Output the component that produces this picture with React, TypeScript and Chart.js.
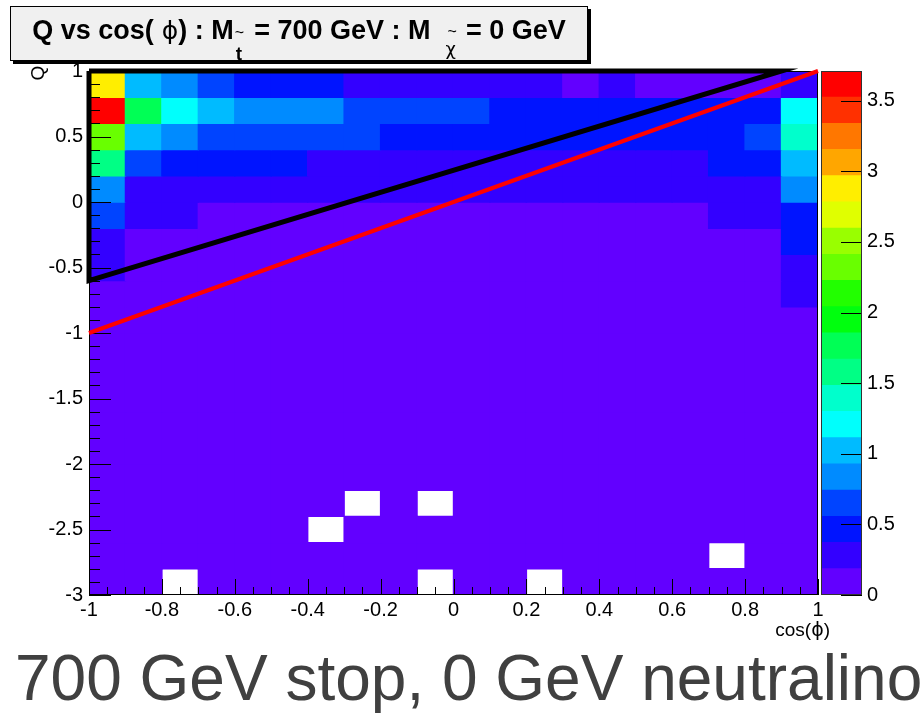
import React, { useEffect, useRef } from "react";
import { Chart, registerables } from "chart.js";

Chart.register(...registerables);

// ---- data ----
const cosPhiBins = [-0.95, -0.85, -0.75, -0.65, -0.55, -0.45, -0.35, -0.25, -0.15, -0.05, 0.05, 0.15, 0.25, 0.35, 0.45, 0.55, 0.65, 0.75, 0.85, 0.95];
const qBins = [0.9, 0.7, 0.5, 0.3, 0.1, -0.1, -0.3, -0.5, -0.7, -0.9, -1.1, -1.3, -1.5, -1.7, -1.9, -2.1, -2.3, -2.5, -2.7, -2.9];
const cosPhiBinWidth = 0.1;
const qBinHeight = 0.2;

// rows follow qBins (top to bottom), columns follow cosPhiBins
const counts: number[][] = [
  [2.87, 1.02, 0.83, 0.65, 0.47, 0.45, 0.42, 0.30, 0.27, 0.25, 0.28, 0.24, 0.22, 0.15, 0.21, 0.14, 0.12, 0.16, 0.15, 0.31],
  [3.71, 1.78, 1.22, 1.00, 0.85, 0.82, 0.80, 0.68, 0.63, 0.60, 0.58, 0.50, 0.48, 0.46, 0.45, 0.44, 0.47, 0.50, 0.52, 1.22],
  [2.30, 1.00, 0.80, 0.70, 0.66, 0.63, 0.60, 0.58, 0.52, 0.50, 0.48, 0.45, 0.47, 0.44, 0.43, 0.46, 0.49, 0.51, 0.62, 1.40],
  [1.58, 0.66, 0.50, 0.46, 0.44, 0.40, 0.34, 0.32, 0.30, 0.30, 0.29, 0.28, 0.27, 0.30, 0.31, 0.33, 0.35, 0.40, 0.45, 1.05],
  [0.85, 0.33, 0.31, 0.29, 0.28, 0.27, 0.26, 0.25, 0.24, 0.24, 0.23, 0.22, 0.23, 0.24, 0.25, 0.26, 0.27, 0.30, 0.32, 0.85],
  [0.68, 0.30, 0.26, 0.17, 0.16, 0.15, 0.14, 0.14, 0.13, 0.13, 0.12, 0.13, 0.14, 0.14, 0.15, 0.16, 0.17, 0.22, 0.25, 0.48],
  [0.30, 0.15, 0.13, 0.12, 0.11, 0.10, 0.10, 0.09, 0.09, 0.09, 0.10, 0.10, 0.10, 0.11, 0.11, 0.12, 0.13, 0.14, 0.16, 0.45],
  [0.24, 0.12, 0.10, 0.09, 0.09, 0.08, 0.08, 0.08, 0.07, 0.07, 0.08, 0.08, 0.08, 0.09, 0.09, 0.10, 0.11, 0.12, 0.14, 0.30],
  [0.16, 0.10, 0.09, 0.08, 0.07, 0.07, 0.06, 0.06, 0.06, 0.06, 0.06, 0.07, 0.07, 0.07, 0.08, 0.08, 0.09, 0.10, 0.12, 0.25],
  [0.13, 0.09, 0.07, 0.06, 0.06, 0.05, 0.05, 0.05, 0.05, 0.05, 0.05, 0.05, 0.06, 0.06, 0.06, 0.07, 0.07, 0.08, 0.10, 0.15],
  [0.11, 0.07, 0.06, 0.05, 0.05, 0.04, 0.04, 0.04, 0.04, 0.04, 0.04, 0.04, 0.05, 0.05, 0.05, 0.05, 0.06, 0.07, 0.08, 0.12],
  [0.09, 0.06, 0.05, 0.04, 0.04, 0.04, 0.03, 0.03, 0.03, 0.03, 0.04, 0.04, 0.04, 0.04, 0.04, 0.05, 0.05, 0.06, 0.07, 0.10],
  [0.08, 0.05, 0.04, 0.04, 0.03, 0.03, 0.03, 0.03, 0.03, 0.03, 0.03, 0.03, 0.03, 0.03, 0.04, 0.04, 0.04, 0.05, 0.06, 0.08],
  [0.07, 0.04, 0.04, 0.03, 0.03, 0.03, 0.02, 0.02, 0.02, 0.02, 0.02, 0.03, 0.03, 0.03, 0.03, 0.03, 0.04, 0.04, 0.05, 0.07],
  [0.06, 0.04, 0.03, 0.03, 0.02, 0.02, 0.02, 0.02, 0.02, 0.02, 0.02, 0.02, 0.02, 0.02, 0.03, 0.03, 0.03, 0.04, 0.04, 0.06],
  [0.05, 0.03, 0.03, 0.02, 0.02, 0.02, 0.02, 0.02, 0.01, 0.02, 0.02, 0.02, 0.02, 0.02, 0.02, 0.02, 0.03, 0.03, 0.04, 0.05],
  [0.04, 0.03, 0.02, 0.02, 0.02, 0.01, 0.01, 0.00, 0.01, 0.00, 0.01, 0.01, 0.02, 0.02, 0.02, 0.02, 0.02, 0.03, 0.03, 0.04],
  [0.04, 0.02, 0.02, 0.02, 0.01, 0.01, 0.00, 0.01, 0.01, 0.01, 0.01, 0.01, 0.01, 0.01, 0.02, 0.02, 0.02, 0.02, 0.03, 0.04],
  [0.03, 0.02, 0.02, 0.01, 0.01, 0.01, 0.01, 0.01, 0.01, 0.01, 0.01, 0.01, 0.01, 0.01, 0.01, 0.02, 0.02, 0.00, 0.02, 0.03],
  [0.03, 0.02, 0.00, 0.01, 0.01, 0.01, 0.01, 0.01, 0.01, 0.00, 0.01, 0.01, 0.00, 0.01, 0.01, 0.01, 0.01, 0.02, 0.02, 0.03],
];

// ROOT "pretty" palette, 20 contour bands (bottom -> top)
const paletteColors = [
  "#6200FF", "#3300FF", "#0014FF", "#0044FF", "#008BFF",
  "#00BBFF", "#00FFFC", "#00FFCC", "#00FF85", "#00FF55",
  "#00FF0E", "#22FF00", "#69FF00", "#99FF00", "#E0FF00",
  "#FFEE00", "#FFA600", "#FF7700", "#FF3000", "#FF0000",
];

const blackRegion = [
  { x: -1, y: 1 },
  { x: 0.9, y: 1 },
  { x: -1, y: -0.6 },
  { x: -1, y: 1 },
];
const redBoundary = [
  { x: -1, y: -1 },
  { x: 1, y: 1 },
];

const FONT = '"Liberation Sans", Arial, Helvetica, sans-serif';
const zMax = Math.max(...counts.map((r) => Math.max(...r)));
const nBands = paletteColors.length;
const colorFor = (v: number) =>
  paletteColors[Math.min(nBands - 1, Math.max(0, Math.floor((v / zMax) * nBands)))];
const fmtTick = (v: any) => String(Math.round(Number(v) * 100) / 100);

const FIRST_BAR_INDEX = 2;

const rootAxesPlugin = {
  id: "rootAxes",
  afterDatasetDraw(chart: any, args: any) {
    if (args.index !== FIRST_BAR_INDEX) return;
    const { ctx, chartArea: a, scales } = chart;
    const xs = scales.x;
    const ys = scales.y;
    ctx.save();
    ctx.strokeStyle = "#000";
    ctx.lineWidth = 1;
    const seg = (x1: number, y1: number, x2: number, y2: number) => {
      ctx.beginPath();
      ctx.moveTo(x1, y1);
      ctx.lineTo(x2, y2);
      ctx.stroke();
    };
    const yv = ys.ticks.map((t: any) => t.value);
    for (let i = 0; i < yv.length; i++) {
      const py = Math.round(ys.getPixelForValue(yv[i])) + 0.5;
      seg(a.left, py, a.left + 22, py);
      if (i < yv.length - 1) {
        for (let k = 1; k < 5; k++) {
          const v = yv[i] + ((yv[i + 1] - yv[i]) * k) / 5;
          const p = Math.round(ys.getPixelForValue(v)) + 0.5;
          seg(a.left, p, a.left + 11, p);
        }
      }
    }
    const xv = xs.ticks.map((t: any) => t.value);
    for (let i = 0; i < xv.length; i++) {
      const px = Math.round(xs.getPixelForValue(xv[i])) + 0.5;
      seg(px, a.bottom, px, a.bottom - 16);
      if (i < xv.length - 1) {
        for (let k = 1; k < 4; k++) {
          const v = xv[i] + ((xv[i + 1] - xv[i]) * k) / 4;
          const p = Math.round(xs.getPixelForValue(v)) + 0.5;
          seg(p, a.bottom, p, a.bottom - 8);
        }
      }
    }
    ctx.strokeRect(a.left + 0.5, a.top + 0.5, a.width - 1, a.height - 1);
    ctx.restore();
  },
};

const paletteAxisPlugin = {
  id: "paletteAxis",
  afterDatasetsDraw(chart: any) {
    const { ctx, chartArea: a, scales } = chart;
    const ys = scales.y;
    ctx.save();
    ctx.strokeStyle = "#000";
    ctx.lineWidth = 1;
    ys.ticks.forEach((t: any) => {
      const py = Math.round(ys.getPixelForValue(t.value)) + 0.5;
      ctx.beginPath();
      ctx.moveTo(a.right, py);
      ctx.lineTo(a.right - 21, py);
      ctx.stroke();
    });
    ctx.strokeStyle = "#333";
    ctx.strokeRect(a.left + 0.5, a.top + 0.5, a.width - 1, a.height - 1);
    ctx.restore();
  },
};

export default function App() {
  const mainRef = useRef<HTMLCanvasElement>(null);
  const barRef = useRef<HTMLCanvasElement>(null);

  useEffect(() => {
    const cellDatasets = qBins.map((q, r) => ({
      type: "bar" as const,
      label: `Q=${q}`,
      data: cosPhiBins
        .map((x, c) => ({ x, y: [q - qBinHeight / 2, q + qBinHeight / 2], v: counts[r][c] }))
        .filter((d) => d.v > 0),
      backgroundColor: (ctx: any) => colorFor(ctx.raw ? ctx.raw.v : 0),
      borderWidth: 0,
      barPercentage: 1,
      categoryPercentage: 1,
      inflateAmount: 0.7,
      grouped: false,
    }));

    const main = new Chart(mainRef.current!, {
      type: "bar",
      data: {
        datasets: [
          {
            type: "line",
            label: "black",
            data: blackRegion,
            borderColor: "#000",
            borderWidth: 5,
            pointRadius: 0,
            fill: false,
            tension: 0,
            clip: false,
            borderJoinStyle: "miter",
          } as any,
          {
            type: "line",
            label: "red",
            data: redBoundary,
            borderColor: "#FF0000",
            borderWidth: 4,
            pointRadius: 0,
            fill: false,
            tension: 0,
            clip: false,
          } as any,
          ...cellDatasets,
        ],
      },
      options: {
        responsive: false,
        animation: false,
        events: [],
        layout: { padding: { left: 0, top: 71, right: 103, bottom: 90 } },
        plugins: { legend: { display: false }, tooltip: { enabled: false }, title: { display: false } },
        scales: {
          x: {
            type: "linear",
            min: -1,
            max: 1,
            offset: false,
            ticks: { stepSize: 0.2, color: "#000", font: { family: FONT, size: 20 }, padding: 3, maxRotation: 0, callback: fmtTick },
            grid: { display: false, drawTicks: false },
            border: { display: false },
            afterFit: (s: any) => {
              s.height = 30;
            },
          },
          y: {
            type: "linear",
            min: -3,
            max: 1,
            ticks: { stepSize: 0.5, color: "#000", font: { family: FONT, size: 20 }, padding: 6, callback: fmtTick },
            grid: { display: false, drawTicks: false },
            border: { display: false },
            afterFit: (s: any) => {
              s.width = 89;
            },
          },
        },
      } as any,
      plugins: [rootAxesPlugin],
    });

    const levels = paletteColors.map((_, j) => [(j * zMax) / nBands, ((j + 1) * zMax) / nBands]);
    const bar = new Chart(barRef.current!, {
      type: "bar",
      data: {
        labels: [""],
        datasets: levels.map((lv, j) => ({
          label: `band${j}`,
          data: [lv],
          backgroundColor: paletteColors[j],
          borderWidth: 0,
          barPercentage: 1,
          categoryPercentage: 1,
          inflateAmount: 0.5,
          grouped: false,
        })),
      },
      options: {
        responsive: false,
        animation: false,
        events: [],
        layout: { padding: { left: 21, top: 71, right: 19, bottom: 120 } },
        plugins: { legend: { display: false }, tooltip: { enabled: false } },
        scales: {
          x: { display: false },
          y: {
            position: "right",
            min: 0,
            max: zMax,
            ticks: { stepSize: 0.5, includeBounds: false, color: "#000", font: { family: FONT, size: 20 }, padding: 5, callback: fmtTick },
            grid: { display: false, drawTicks: false },
            border: { display: false },
            afterFit: (s: any) => {
              s.width = 40;
            },
          },
        },
      } as any,
      plugins: [paletteAxisPlugin],
    });

    return () => {
      main.destroy();
      bar.destroy();
    };
  }, []);

  const stack: React.CSSProperties = { display: "inline-block", position: "relative", width: 13, height: 0 };

  return (
    <div
      style={{
        position: "absolute",
        left: 0,
        top: 0,
        width: 921,
        height: 715,
        overflow: "hidden",
        background: "#fff",
        fontFamily: FONT,
      }}
    >
      <canvas ref={mainRef} width={921} height={715} style={{ position: "absolute", left: 0, top: 0 }} />
      <canvas ref={barRef} width={121} height={715} style={{ position: "absolute", left: 800, top: 0 }} />

      {/* title box */}
      <div
        style={{
          position: "absolute",
          left: 10,
          top: 6,
          width: 576,
          height: 53,
          background: "#f0f0f0",
          border: "1px solid #000",
          boxShadow: "3px 3px 0 #000",
        }}
      >
        <div
          style={{
            position: "absolute",
            left: 0,
            right: 0,
            top: 8,
            textAlign: "center",
            fontWeight: "bold",
            fontSize: 27,
            lineHeight: "30px",
            whiteSpace: "nowrap",
            color: "#000",
          }}
        >
          Q vs cos(
          <span style={{ fontFamily: '"DejaVu Sans", sans-serif', fontWeight: "normal", fontSize: 25 }}>&nbsp;ϕ</span>) : M
          <span style={stack}>
            <span style={{ position: "absolute", left: 1, top: -14, fontSize: 16, lineHeight: "16px", fontWeight: "normal" }}>~</span>
            <span style={{ position: "absolute", left: 2, top: 5, fontSize: 19, lineHeight: "19px" }}>t</span>
          </span>
          &nbsp;= 700 GeV : M&nbsp;&nbsp;
          <span style={stack}>
            <span style={{ position: "absolute", left: 2, top: -15, fontSize: 16, lineHeight: "16px", fontWeight: "normal" }}>~</span>
            <span
              style={{
                position: "absolute",
                left: 0,
                top: 1,
                fontSize: 18,
                lineHeight: "18px",
                fontWeight: "normal",
                fontFamily: '"DejaVu Sans", sans-serif',
              }}
            >
              χ
            </span>
          </span>
          &nbsp;= 0 GeV
        </div>
      </div>

      {/* axis titles */}
      <div
        style={{
          position: "absolute",
          left: 28,
          top: 62,
          width: 20,
          height: 22,
          fontSize: 19,
          lineHeight: "22px",
          textAlign: "center",
          transform: "rotate(-90deg)",
          color: "#000",
        }}
      >
        Q
      </div>
      <div
        style={{
          position: "absolute",
          right: 921 - 830,
          top: 618,
          fontSize: 19,
          lineHeight: "22px",
          color: "#000",
          whiteSpace: "nowrap",
        }}
      >
        cos(<span style={{ fontFamily: '"DejaVu Sans", sans-serif' }}>ϕ</span>)
      </div>

      {/* caption */}
      <div
        style={{
          position: "absolute",
          left: 15,
          top: 647,
          fontSize: 64,
          lineHeight: "63px",
          color: "#404040",
          whiteSpace: "nowrap",
        }}
      >
        700 GeV stop, 0 GeV neutralino
      </div>
    </div>
  );
}
